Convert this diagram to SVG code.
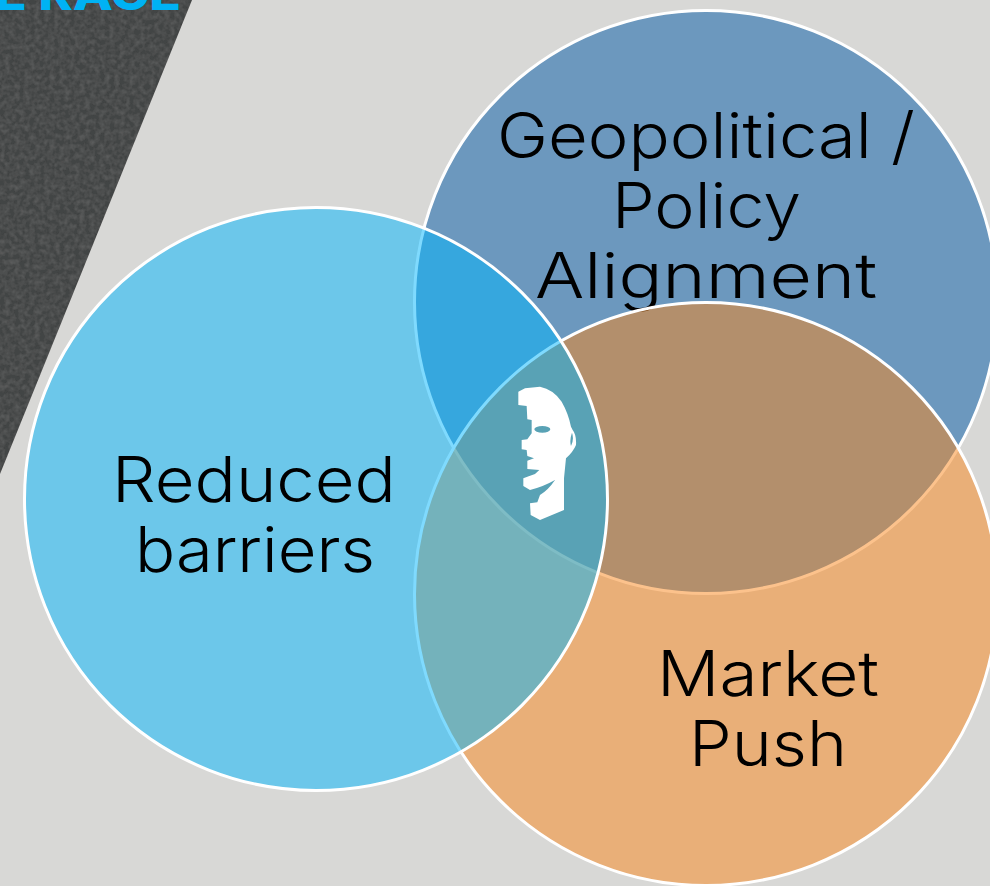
<svg xmlns="http://www.w3.org/2000/svg" width="990" height="886" viewBox="0 0 990 886">
<style>
.c{stroke:#fff;stroke-width:3;fill-opacity:.5}
.t{font-family:"Inter","Liberation Sans",sans-serif;font-weight:300;font-size:63px;fill:#000;text-anchor:middle}
</style>
<defs>
<filter id="grain" x="0" y="0" width="100%" height="100%">
<feTurbulence type="fractalNoise" baseFrequency="0.2" numOctaves="2" seed="4"/>
<feColorMatrix values="0 0 0 0 0.36 0 0 0 0 0.36 0 0 0 0 0.36 0 0 0 0.3 -0.1"/>
<feComposite in2="SourceGraphic" operator="in"/>
<feMerge><feMergeNode in="SourceGraphic"/><feMergeNode/></feMerge>
</filter>
</defs>
<rect width="990" height="886" fill="#d8d8d6"/>
<polygon points="0,0 192,0 0,474" fill="#434444" filter="url(#grain)"/>
<text x="88" y="10" font-family="Inter,'Liberation Sans',sans-serif" font-weight="800" font-size="44" fill="#00b2f4" text-anchor="middle" textLength="186" lengthAdjust="spacingAndGlyphs">E RACE</text>
<g id="geopolitical">
<circle class="c" cx="706" cy="302" r="291.5" fill="#0058a6"/>
<text class="t" x="706" y="158" textLength="418" lengthAdjust="spacingAndGlyphs">Geopolitical /</text>
<text class="t" x="706.5" y="228" textLength="189" lengthAdjust="spacingAndGlyphs">Policy</text>
<text class="t" x="706" y="298" textLength="342" lengthAdjust="spacingAndGlyphs">Alignment</text>
</g>
<g id="market">
<circle class="c" cx="706" cy="594" r="291.5" fill="#fa861a"/>
<text class="t" x="768" y="696" textLength="222" lengthAdjust="spacingAndGlyphs">Market</text>
<text class="t" x="768" y="766" textLength="158" lengthAdjust="spacingAndGlyphs">Push</text>
</g>
<g id="barriers">
<circle class="c" cx="316" cy="499" r="291.5" fill="#00b6fe"/>
<text class="t" x="254" y="502" textLength="284" lengthAdjust="spacingAndGlyphs">Reduced</text>
<text class="t" x="255" y="572" textLength="240" lengthAdjust="spacingAndGlyphs">barriers</text>
</g>
<g id="face">
<path transform="translate(490 370) scale(.3333)" fill="#fff" fill-rule="evenodd" d="M85 65L105 55L150 50Q190 58 215 95Q235 130 243 170L248 180Q260 195 258 225Q250 245 228 265L222 325L222 420L150 450L122 435L120 400L142 397L150 375Q175 360 195 330Q160 350 120 360L100 348L100 325L112 320L135 312L148 300L112 297L112 272L132 265L112 258L110 240L95 238L95 210L112 208L125 190L125 150L112 148L110 108L85 105ZM133 178a24 10 0 1 0 48 0a24 10 0 1 0 -48 0ZM246 188Q238 210 243 228Q253 208 246 188Z"/>
</g>
</svg>
